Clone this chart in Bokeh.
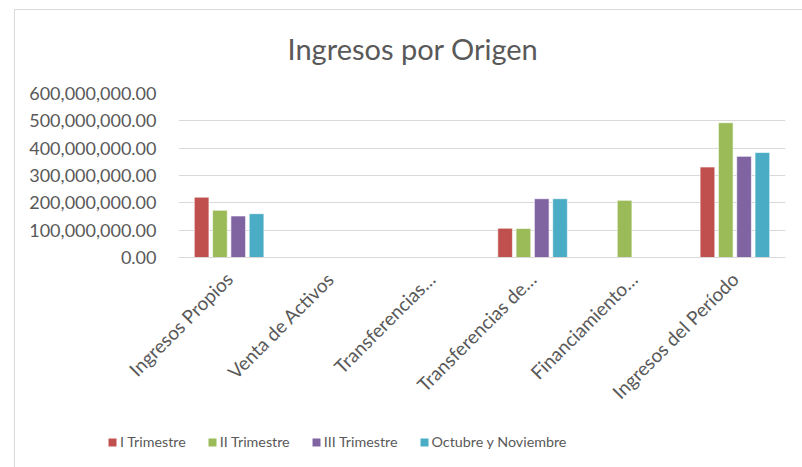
from bokeh.plotting import figure
from bokeh.models import (ColumnDataSource, FactorRange, NumeralTickFormatter, FixedTicker,
                          Legend, LegendItem, InlineStyleSheet)
from bokeh.layouts import column
from bokeh.transform import dodge
from bokeh.embed import file_html
from bokeh.resources import INLINE
import math

categories = ["Ingresos Propios", "Venta de Activos", "Transferencias\u2026",
              "Transferencias de\u2026", "Financiamiento\u2026", "Ingresos del Per\u00edodo"]
series_names = ["I Trimestre", "II Trimestre", "III Trimestre", "Octubre y Noviembre"]
i_trimestre = [220600000, 0, 0, 107000000, 0, 331000000]
ii_trimestre = [172800000, 0, 0, 106000000, 209000000, 493000000]
iii_trimestre = [151800000, 0, 0, 215000000, 0, 370000000]
oct_nov = [160300000, 0, 1500000, 215000000, 0, 384000000]
y_ticks = [0, 100000000, 200000000, 300000000, 400000000, 500000000, 600000000]

colors = ["#C0504D", "#9BBB59", "#8064A2", "#4BACC6"]
FONT = "Lato"
TXT = "#595959"
keys = ["s0", "s1", "s2", "s3"]
offsets = [-0.2715, -0.0905, 0.0905, 0.2715]

source = ColumnDataSource(data=dict(cat=categories, s0=i_trimestre, s1=ii_trimestre,
                                    s2=iii_trimestre, s3=oct_nov))

border_css = InlineStyleSheet(css="""
:host { overflow: visible; }
:host::before { content: ''; position: absolute; left: 14px; top: 9px; width: 900px; height: 600px;
  border-left: 1px solid #D9D9D9; border-top: 1px solid #D9D9D9; pointer-events: none; z-index: 5; }
""")

p = figure(x_range=FactorRange(*categories), y_range=(0, 600000000),
           width=802, height=420, output_backend="svg", toolbar_location=None,
           min_border_left=178, min_border_right=17, min_border_top=93, min_border_bottom=163)
p.frame_align = False
p.stylesheets = [border_css]

for k, key in enumerate(keys):
    p.vbar(x=dodge("cat", offsets[k], range=p.x_range), top=key, width=0.145,
           source=source, fill_color=colors[k], line_color="white", line_alpha=0.6,
           line_width=1)

p.title.text = "Ingresos por Origen"
p.title.text_font = FONT
p.title.text_font_size = "29px"
p.title.text_font_style = "normal"
p.title.text_color = TXT
p.title.align = "left"
p.title.offset = 109
p.title.standoff = 56

p.outline_line_color = None
p.xgrid.grid_line_color = None
p.ygrid.grid_line_color = "#D9D9D9"
p.ygrid.grid_line_width = 1

p.yaxis.ticker = FixedTicker(ticks=y_ticks)
p.yaxis.formatter = NumeralTickFormatter(format="0,0.00")
p.yaxis.axis_line_color = None
p.yaxis.major_tick_line_color = None
p.yaxis.minor_tick_line_color = None
p.yaxis.major_label_standoff = 16
p.yaxis.major_label_text_font = FONT
p.yaxis.major_label_text_font_size = "18px"
p.yaxis.major_label_text_color = TXT

p.xaxis.axis_line_color = "#D9D9D9"
p.xaxis.major_tick_line_color = None
p.xaxis.minor_tick_line_color = None
p.xaxis.major_label_orientation = math.pi / 4
p.xaxis.major_label_standoff = 12
p.xaxis.major_label_text_font = FONT
p.xaxis.major_label_text_font_size = "19px"
p.xaxis.major_label_text_color = TXT

# legend strip (hidden proxies of the same bars)
lg = figure(x_range=p.x_range, y_range=p.y_range, width=802, height=47,
            output_backend="svg", toolbar_location=None,
            x_axis_location=None, y_axis_location=None,
            min_border_left=0, min_border_right=0, min_border_top=0, min_border_bottom=0)
lg.frame_align = False
lg.outline_line_color = None
lg.xgrid.grid_line_color = None
lg.ygrid.grid_line_color = None
items = []
for k, key in enumerate(keys):
    r = lg.vbar(x=dodge("cat", offsets[k], range=lg.x_range), top=key, width=0.145,
                source=source, fill_color=colors[k], line_color=None, visible=False)
    items.append(LegendItem(label=series_names[k], renderers=[r]))
legend = Legend(items=items, orientation="horizontal", location=(107, 17),
                glyph_width=10, glyph_height=10, label_standoff=3, spacing=21,
                padding=0, margin=0, border_line_color=None, background_fill_alpha=0,
                label_text_font=FONT, label_text_font_size="14.3px", label_text_color=TXT)
lg.add_layout(legend, "center")

layout = column(p, lg, spacing=0)
open("out.html", "w").write(file_html(layout, INLINE))
